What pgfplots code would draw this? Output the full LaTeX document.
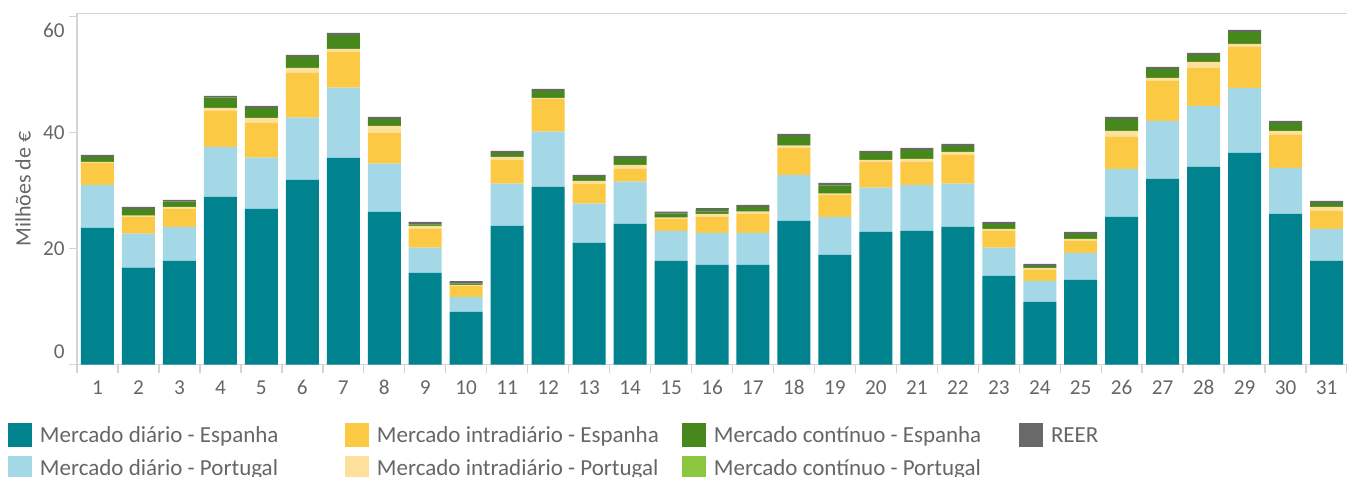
\documentclass[border=0pt]{standalone}
\usepackage{fontspec}
\setmainfont{Carlito}
\usepackage{pgfplots}
\usepackage{pgfplotstable}
\pgfplotsset{compat=1.18}

\definecolor{cDE}{HTML}{00838F}
\definecolor{cDP}{HTML}{A5D8E6}
\definecolor{cIE}{HTML}{FCC945}
\definecolor{cIP}{HTML}{FCE09C}
\definecolor{cCE}{HTML}{46881C}
\definecolor{cCP}{HTML}{8DC63F}
\definecolor{cREER}{HTML}{696969}
\definecolor{axisgray}{HTML}{D4D4D4}
\definecolor{textgray}{HTML}{666666}

% day, diario ES, diario PT, intradiario ES, intradiario PT, continuo ES, REER, extra continuo on top (day 16)
\pgfplotstableread{
day dE    dP    iE   iP   cE   reer ex
1   23.53 7.42  3.85 0.11 0.87 0.34 0
2   16.70 5.86  2.93 0.17 1.15 0.35 0
3   17.84 5.87  3.16 0.29 0.91 0.29 0
4   28.88 8.62  6.21 0.51 1.78 0.29 0
5   26.81 8.85  5.98 0.86 1.72 0.35 0
6   31.81 10.75 7.70 0.86 1.90 0.34 0
7   35.60 12.13 6.15 0.52 2.35 0.41 0
8   26.29 8.34  5.28 1.21 1.21 0.34 0
9   15.78 4.36  3.22 0.52 0.29 0.40 0
10  9.05  2.59  1.89 0.18 0.23 0.45 0
11  23.88 7.30  4.08 0.52 0.69 0.35 0
12  30.60 9.54  5.64 0.17 1.21 0.34 0
13  20.95 6.78  3.45 0.46 0.69 0.34 0
14  24.22 7.30  2.19 0.69 1.20 0.35 0
15  17.84 5.18  2.12 0.18 0.69 0.34 0
16  17.16 5.51  2.81 0.47 0.46 0.40 0.17
17  17.16 5.51  3.34 0.34 0.81 0.34 0
18  24.74 7.93  4.72 0.34 1.67 0.34 0
19  18.88 6.55  3.85 0.17 1.44 0.40 0
20  22.84 7.65  4.42 0.35 1.21 0.35 0
21  23.02 7.93  3.96 0.52 1.55 0.35 0
22  23.71 7.47  4.94 0.52 1.03 0.35 0
23  15.26 4.88  2.88 0.34 0.86 0.35 0
24  10.78 3.62  1.89 0.35 0.34 0.35 0
25  14.57 4.65  2.07 0.35 0.86 0.34 0
26  25.43 8.28  5.51 1.04 2.07 0.34 0
27  31.98 10.00 6.90 0.52 1.55 0.34 0
28  34.05 10.52 6.55 1.04 1.20 0.35 0
29  36.47 11.20 7.07 0.52 2.07 0.34 0
30  25.95 7.93  5.69 0.69 1.38 0.34 0
31  17.84 5.52  3.11 0.69 0.70 0.34 0
}\dataday

\begin{document}
\begin{tikzpicture}
\begin{axis}[
  name=ax, at={(0,0)}, anchor=south west,
  scale only axis, width=635pt, height=175.5pt,
  ybar stacked, bar width=16.5pt,
  xmin=0.5, xmax=31.5, ymin=0, ymax=60.5,
  clip=false,
  axis lines*=left,
  axis line style={draw=axisgray, line width=0.7pt},
  tick align=outside,
  major tick length=4pt, minor tick length=4pt,
  xtick={1,...,31},
  minor xtick={0.5,1.5,...,31.5},
  major x tick style={draw=none},
  minor x tick style={draw=axisgray, line width=0.7pt},
  ytick={0,20,40,60},
  y tick style={draw=axisgray, line width=0.7pt},
  yticklabels={\raisebox{2.85pt}[0pt][0pt]{0},20,40,\raisebox{-10.4pt}[0pt][0pt]{60}},
  /pgf/number format/assume math mode=true,
  tick label style={font=\fontsize{10.6}{12}\selectfont, text=textgray, inner sep=0pt},
  yticklabel style={xshift=-2pt},
  xticklabel style={yshift=-3.75pt},
  ylabel={Milhões de €},
  ylabel style={at={(axis description cs:-0.0425,0.5)}, anchor=center, rotate=0,
    font=\fontsize{11}{13}\selectfont, text=textgray},
  legend columns=4,
  legend style={at={(0,0)}, anchor=north west, xshift=-34.5pt, yshift=-28.75pt,
    draw=none, fill=none, inner sep=0pt, outer sep=0pt,
    column sep=0pt, row sep=0pt,
    font=\fontsize{11.5}{13}\selectfont, text=textgray,
    nodes={inner sep=0pt, text height=10pt, text depth=6.5pt,
      text width=152.5pt, align=flush left, anchor=base west}},
  legend image code/.code={\fill[#1, draw=none] (0pt,-2.3pt) rectangle (12pt,9.7pt); \path (16pt,0pt);},
]
\addplot[fill=cDE, draw=none, forget plot] table[x=day, y=dE] {\dataday};
\addplot[fill=cDP, draw=none, forget plot] table[x=day, y=dP] {\dataday};
\addplot[fill=cIE, draw=none, forget plot] table[x=day, y=iE] {\dataday};
\addplot[fill=cIP, draw=none, forget plot] table[x=day, y=iP] {\dataday};
\addplot[fill=cCE, draw=none, forget plot] table[x=day, y=cE] {\dataday};
\addplot[fill=cREER, draw=none, forget plot] table[x=day, y=reer] {\dataday};
\addplot[fill=cCE, draw=none, forget plot] table[x=day, y=ex] {\dataday};
\draw[axisgray, line width=0.7pt] (rel axis cs:0,1) -- (rel axis cs:1,1);

\addlegendimage{fill=cDE, draw=none}\addlegendentry{Mercado diário - Espanha}
\addlegendimage{fill=cIE, draw=none}\addlegendentry{Mercado intradiário - Espanha}
\addlegendimage{fill=cCE, draw=none}\addlegendentry{Mercado contínuo - Espanha}
\addlegendimage{fill=cREER, draw=none}\addlegendentry{REER}
\addlegendimage{fill=cDP, draw=none}\addlegendentry{Mercado diário - Portugal}
\addlegendimage{fill=cIP, draw=none}\addlegendentry{Mercado intradiário - Portugal}
\addlegendimage{fill=cCP, draw=none}\addlegendentry{Mercado contínuo - Portugal}
\end{axis}
\pgfresetboundingbox
\path[use as bounding box] ([xshift=-38.5pt,yshift=-55.75pt]ax.south west) rectangle ([yshift=6.75pt]ax.north east);
\end{tikzpicture}
\end{document}
